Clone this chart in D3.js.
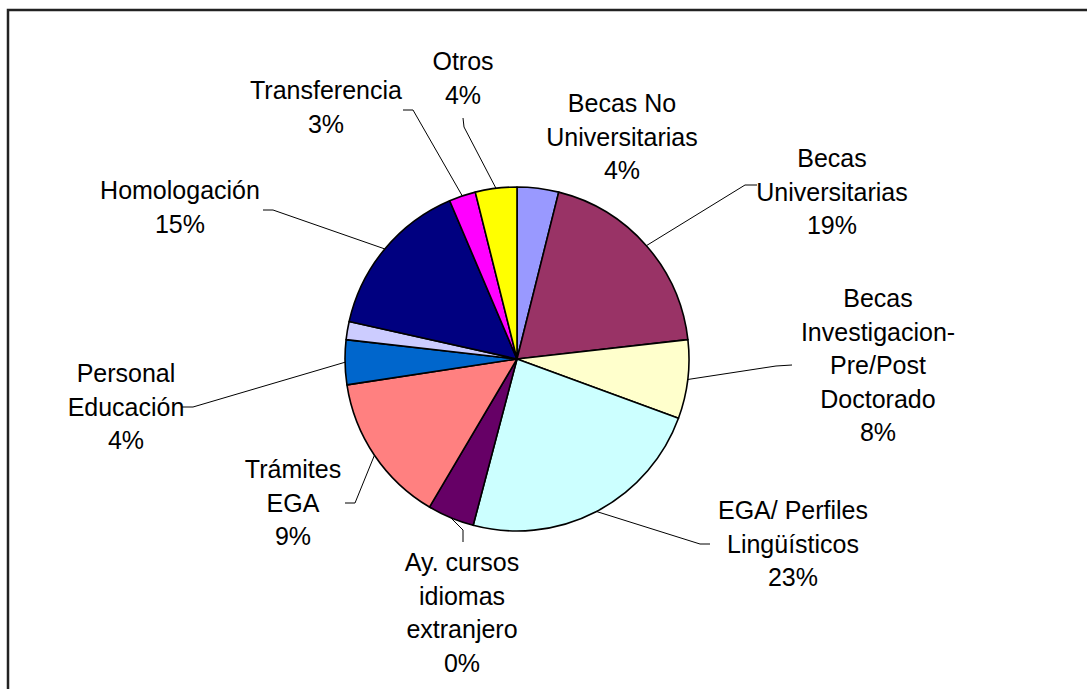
<!DOCTYPE html>
<html>
<head>
<meta charset="utf-8">
<script src="https://cdn.jsdelivr.net/npm/d3@7"></script>
<style>
  body { margin: 0; background: #fff; }
  text { font-family: "Liberation Sans", Arial, sans-serif; font-size: 25px; fill: #000; }
</style>
</head>
<body>
<svg width="1087" height="689"></svg>
<script>
// slices, clockwise from 12 o'clock
const categories = ['Becas No Universitarias', 'Becas Universitarias', 'Becas Investigacion-Pre/Post Doctorado',
  'EGA/ Perfiles Lingüísticos', 'Ay. cursos idiomas extranjero', 'Trámites EGA', 'Personal Educación',
  '', 'Homologación', 'Transferencia', 'Otros'];
const values = [3.9, 19.3, 7.4, 23.5, 4.4, 14.1, 4.2, 1.7, 15.1, 2.5, 3.9];
// label lines as printed on the chart
const labelLines = [
  ['Becas No', 'Universitarias'],
  ['Becas', 'Universitarias'],
  ['Becas', 'Investigacion-', 'Pre/Post', 'Doctorado'],
  ['EGA/ Perfiles', 'Lingüísticos'],
  ['Ay. cursos', 'idiomas', 'extranjero'],
  ['Trámites', 'EGA'],
  ['Personal', 'Educación'],
  null,
  ['Homologación'],
  ['Transferencia'],
  ['Otros']
];
const pctText = ['4%', '19%', '8%', '23%', '0%', '9%', '4%', null, '15%', '3%', '4%'];
const colors = ['#9999FF', '#993366', '#FFFFCC', '#CCFFFF', '#660066', '#FF8080', '#0066CC',
  '#CCCCFF', '#000080', '#FF00FF', '#FFFF00'];

// label placement: center x, first baseline, leader points (label side first)
const layout = [
  {x: 622, y: 112, pts: null},
  {x: 832, y: 167, pts: [[757, 185], [745, 185]]},
  {x: 878, y: 307, pts: [[792, 365], [776, 366]]},
  {x: 793, y: 519, pts: [[710, 544], [700, 544]]},
  {x: 462, y: 571, pts: [[463, 542], [463, 530]]},
  {x: 293, y: 478, pts: [[345, 503], [355, 503]]},
  {x: 126, y: 382, pts: [[182, 407], [193, 407]]},
  null,
  {x: 180, y: 199, pts: [[263, 210], [273, 210]]},
  {x: 326, y: 99, pts: [[403, 110], [413, 110]]},
  {x: 463, y: 70, pts: [[463, 118], [464, 127]]}
];

const svg = d3.select('svg');
const cx = 517, cy = 359, r = 172, lineH = 33.5;

// chart frame
svg.append('rect')
  .attr('x', 8).attr('y', 10).attr('width', 1200).attr('height', 800)
  .attr('fill', 'none').attr('stroke', '#222').attr('stroke-width', 2.5);

const pie = d3.pie().sort(null).value(d => d)(values);
const arc = d3.arc().innerRadius(0).outerRadius(r);

const g = svg.append('g').attr('transform', `translate(${cx},${cy})`);
g.selectAll('path')
  .data(pie)
  .enter().append('path')
    .attr('d', arc)
    .attr('fill', (d, i) => colors[i])
    .attr('stroke', '#000')
    .attr('stroke-width', 1.6)
    .attr('stroke-linejoin', 'round');

// leader lines
pie.forEach((d, i) => {
  const L = layout[i];
  if (!L || !L.pts) return;
  const a = (d.startAngle + d.endAngle) / 2;
  const edge = [cx + r * Math.sin(a), cy - r * Math.cos(a)];
  svg.append('path')
    .attr('d', d3.line()([...L.pts, edge]))
    .attr('fill', 'none')
    .attr('stroke', '#000')
    .attr('stroke-width', 1);
});

// labels
categories.forEach((c, i) => {
  const L = layout[i];
  if (!L) return;
  const lines = labelLines[i].concat([pctText[i]]);
  const t = svg.append('text')
    .attr('text-anchor', 'middle')
    .attr('x', L.x).attr('y', L.y);
  lines.forEach((s, k) => {
    t.append('tspan').attr('x', L.x).attr('dy', k === 0 ? 0 : lineH).text(s);
  });
});
</script>
</body>
</html>
